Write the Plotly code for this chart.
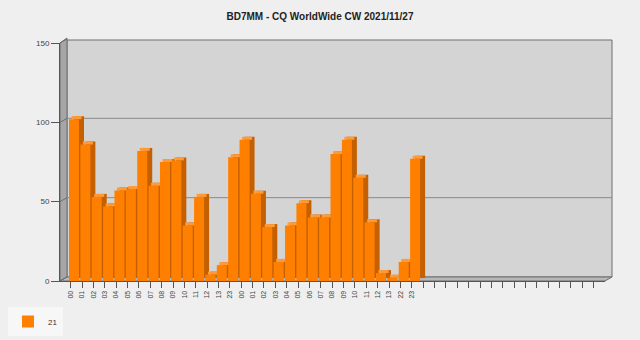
import plotly.graph_objects as go

# ---- data ----
hours = ["00", "01", "02", "03", "04", "05", "06", "07", "08", "09", "10", "11", "12", "13", "23",
         "00", "01", "02", "03", "04", "05", "06", "07", "08", "09", "10", "11", "12", "13", "22", "23"]
qsos = [102, 86, 53, 47, 57, 58, 82, 60, 75, 76, 35, 53, 4, 10, 78,
        89, 55, 34, 12, 35, 49, 40, 40, 80, 89, 65, 37, 5, 2, 12, 77]
total_slots = 48
series_name = "21"
y_ticks = [0, 50, 100, 150]

# ---- layout geometry (pixels) ----
L, R, T, B = 60, 605, 43, 281
W, H = R - L, B - T
DX, DY = 7, 4          # wall depth offset
slot_px = 11.37
x0 = -(74 - L) / slot_px
x1 = x0 + W / slot_px
y_max = 150
px_per_x = slot_px
px_per_y = H / y_max

bar_w = 10 / px_per_x
side_dx = 5 / px_per_x
side_dy = 3 / px_per_y

def fx(p):
    return (p - L) / W

def fy(p):
    return (B - p) / H

xs = list(range(len(qsos)))

fig = go.Figure()
# side faces
fig.add_trace(go.Bar(x=xs, y=qsos, base=[side_dy] * len(qsos), width=bar_w,
                     offset=-bar_w / 2 + side_dx, marker=dict(color="#c46000", line=dict(width=0)),
                     showlegend=False, hoverinfo="skip"))
# top faces
fig.add_trace(go.Bar(x=xs, y=[side_dy] * len(qsos), base=qsos, width=bar_w,
                     offset=-bar_w / 2 + side_dx / 2, marker=dict(color="#ff9a3a", line=dict(width=0)),
                     showlegend=False, hoverinfo="skip"))
# front faces
fig.add_trace(go.Bar(x=xs, y=qsos, width=bar_w, offset=-bar_w / 2, name=series_name,
                     marker=dict(color="#ff8000", line=dict(width=0)), showlegend=True))

shapes = []
# back wall
shapes.append(dict(type="rect", xref="paper", yref="paper", layer="below",
                   x0=fx(L + DX), x1=fx(R + DX), y0=fy(B - DY), y1=fy(T - DY + 1),
                   fillcolor="#d4d4d4", line=dict(color="#6e6e6e", width=1)))
# left side wall
shapes.append(dict(type="path", xref="paper", yref="paper", layer="below",
                   path=f"M {fx(L)},{fy(T)} L {fx(L+DX)},{fy(T-DY-1)} L {fx(L+DX)},{fy(B-DY)} L {fx(L)},{fy(B)} Z",
                   fillcolor="#a6a6a6", line=dict(color="#6e6e6e", width=1)))
# floor
shapes.append(dict(type="path", xref="paper", yref="paper", layer="below",
                   path=f"M {fx(L)},{fy(B)} L {fx(L+DX)},{fy(B-DY)} L {fx(R+DX)},{fy(B-DY)} L {fx(R)},{fy(B)} Z",
                   fillcolor="#b8b8b8", line=dict(color="#6e6e6e", width=1)))
# gridlines on back wall + diagonals on side wall
for v in y_ticks[1:-1]:
    yp = B - v * px_per_y
    shapes.append(dict(type="line", xref="paper", yref="paper", layer="below",
                       x0=fx(L + DX), x1=fx(R + DX), y0=fy(yp - DY), y1=fy(yp - DY),
                       line=dict(color="#8a8a8a", width=1)))
for v in y_ticks:
    yp = B - v * px_per_y
    shapes.append(dict(type="line", xref="paper", yref="paper", layer="below",
                       x0=fx(L), x1=fx(L + DX), y0=fy(yp), y1=fy(yp - DY),
                       line=dict(color="#6e6e6e", width=1)))

tickvals = [k - (74 - 70.7) / slot_px for k in range(total_slots)]
ticktext = hours + [""] * (total_slots - len(hours))

fig.update_layout(
    width=640, height=340,
    margin=dict(l=L, r=640 - R, t=T, b=340 - B, pad=0, autoexpand=False),
    paper_bgcolor="#efefef", plot_bgcolor="rgba(0,0,0,0)",
    barmode="overlay",
    shapes=shapes,
    font=dict(family="Liberation Sans, Arial, sans-serif", color="#333333"),
    title=dict(text="<b>BD7MM - CQ WorldWide CW 2021/11/27</b>", x=0.5, xanchor="center",
               y=1 - 16 / 340, yanchor="middle", font=dict(size=10, color="#222222")),
    xaxis=dict(range=[x0, x1], tickmode="array", tickvals=tickvals, ticktext=ticktext,
               tickangle=-90, tickfont=dict(size=7, color="#444444"), ticks="outside", ticklen=6,
               tickcolor="#555555", showgrid=False, zeroline=False, showline=True,
               linecolor="#555555", linewidth=1, fixedrange=True, automargin=False),
    yaxis=dict(range=[0, y_max], tickmode="array", tickvals=y_ticks,
               tickfont=dict(size=8, color="#444444"), ticks="outside", ticklen=8,
               tickcolor="#555555", showgrid=False, zeroline=False, showline=True,
               linecolor="#555555", linewidth=1, fixedrange=True, automargin=False),
    legend=dict(xref="container", yref="container", x=8 / 640, y=1 - 307 / 340,
                xanchor="left", yanchor="top", bgcolor="#f7f7f7", borderwidth=0,
                font=dict(size=8, color="#333333"), itemwidth=30),
    hovermode=False,
)

fig.write_html("out.html")
